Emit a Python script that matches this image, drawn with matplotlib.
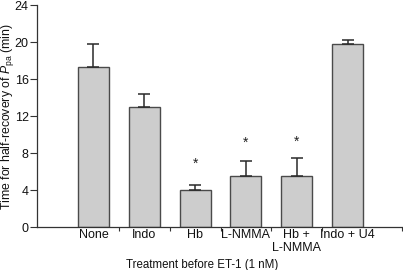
import matplotlib
matplotlib.use("Agg")
import matplotlib.pyplot as plt
import numpy as np

plt.rcParams['font.family'] = ['Liberation Sans', 'DejaVu Sans']
plt.rcParams['mathtext.fontset'] = 'custom'
plt.rcParams['mathtext.rm'] = 'Liberation Sans'
plt.rcParams['mathtext.it'] = 'Liberation Sans:italic'

categories = ["None", "Indo", "Hb", "L-NMMA", "Hb +\nL-NMMA", "Indo + U4"]
means = [17.3, 13.0, 4.0, 5.55, 5.55, 19.75]
errors = [2.55, 1.4, 0.55, 1.55, 1.9, 0.5]
star_y = [None, None, 6.8, 9.1, 9.25, None]

fig = plt.figure(figsize=(4.03, 2.70), dpi=100)
ax = fig.add_axes([0.0918, 0.159, 0.9057, 0.822])

x = np.arange(len(categories))
ax.bar(x, means, width=0.61, color='#cdcdcd', edgecolor='#4a4a4a', linewidth=1.0, zorder=2)
ax.errorbar(x, means, yerr=[np.zeros(len(means)), errors], fmt='none',
            ecolor='#2a2a2a', elinewidth=1.1, capsize=4, capthick=1.1, zorder=3)

for xi, sy in zip(x, star_y):
    if sy is not None:
        ax.text(xi, sy, '*', ha='center', va='center', fontsize=10, color='#222222')

ax.set_xlim(-1.11, 6.07)
ax.set_ylim(0, 24)
ax.set_yticks([0, 4, 8, 12, 16, 20, 24])
ax.set_xticks(x)
ax.set_xticklabels(categories, fontsize=9, color='#111111', linespacing=1.05)
ax.set_xticks([0.5, 1.5, 2.5, 3.5, 4.5, 6.07], minor=True)
ax.tick_params(axis='x', which='major', length=0, pad=1.5)
ax.tick_params(axis='x', which='minor', length=3, width=0.8, direction='out', color='#333333')
ax.tick_params(axis='y', length=5, width=0.8, direction='out', labelsize=9, pad=1,
               color='#333333', labelcolor='#111111')

for s in ['top', 'right']:
    ax.spines[s].set_visible(False)
for s in ['left', 'bottom']:
    ax.spines[s].set_color('#333333')
    ax.spines[s].set_linewidth(0.9)

ax.set_ylabel('Time for half-recovery of $P_{\\rm pa}$ (min)', fontsize=8.8, color='#111111')
ax.yaxis.set_label_coords(-0.058, 0.5)
ax.set_xlabel('Treatment before ET-1 (1 nM)', fontsize=8.3, color='#111111')
ax.xaxis.set_label_coords(0.453, -0.145)

fig.savefig('out.png', dpi=100)
